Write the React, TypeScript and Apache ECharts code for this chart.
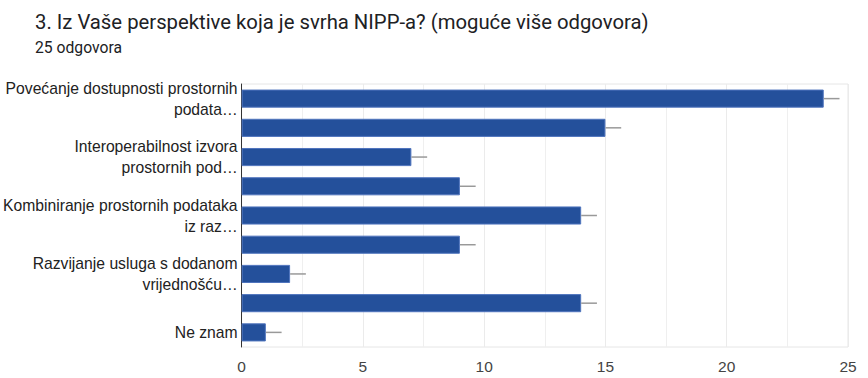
import React, { useEffect, useRef } from "react";
import * as echarts from "echarts";

const titleText = "3. Iz Vaše perspektive koja je svrha NIPP-a? (moguće više odgovora)";
const subtitleText = "25 odgovora";
const categories = [
  "Povećanje dostupnosti prostornih\npodata…",
  "",
  "Interoperabilnost izvora\nprostornih pod…",
  "",
  "Kombiniranje prostornih podataka\niz raz…",
  "",
  "Razvijanje usluga s dodanom\nvrijednošću…",
  "",
  "Ne znam",
];
const values = [24, 15, 7, 9, 14, 9, 2, 14, 1];
const errors = [0.65, 0.65, 0.65, 0.65, 0.65, 0.65, 0.65, 0.65, 0.65];
const xTicks = [0, 5, 10, 15, 20, 25];

export default function App() {
  const ref = useRef<HTMLDivElement>(null);
  useEffect(() => {
    document.body.style.margin = "0";
    if (!ref.current) return;
    const chart = echarts.init(ref.current, null, { renderer: "svg" });
    const errData = values.map((v, i) => [v, v + errors[i], i]);
    chart.setOption({
      animation: false,
      title: {
        text: titleText,
        subtext: subtitleText,
        left: 30,
        top: 7,
        itemGap: 7,
        textStyle: { fontFamily: "Roboto", fontSize: 20.3, fontWeight: "normal", color: "#202124" },
        subtextStyle: { fontFamily: "Roboto", fontSize: 15.7, color: "#202124" },
      },
      grid: {
        left: 236,
        right: 20,
        top: 84,
        bottom: 31,
        show: true,
        borderColor: "#e6e6e6",
        borderWidth: 1,
      },
      xAxis: {
        type: "value",
        min: xTicks[0],
        max: xTicks[xTicks.length - 1],
        interval: 5,
        axisLine: { show: false },
        axisTick: { show: false },
        axisLabel: { color: "#444", fontFamily: "Liberation Sans, Arial", fontSize: 15.5, margin: 11 },
        splitLine: { show: true, lineStyle: { color: "#ebebeb", width: 1 } },
        minorTick: { show: false, splitNumber: 2 },
        minorSplitLine: { show: true, lineStyle: { color: "#efefef", width: 1 } },
      },
      yAxis: {
        type: "category",
        inverse: true,
        data: categories,
        axisLine: { show: true, lineStyle: { color: "#333", width: 1 } },
        axisTick: { show: false },
        axisLabel: {
          interval: 0,
          color: "#222",
          fontFamily: "Liberation Sans, Arial",
          fontSize: 15.7,
          lineHeight: 21,
          margin: 4,
          align: "right",
        },
      },
      series: [
        {
          type: "bar",
          data: values,
          barWidth: "62%",
          itemStyle: { color: "#24509b", borderColor: "#4f74bd", borderWidth: 1 },
          z: 2,
        },
        {
          type: "custom",
          data: errData,
          encode: { x: [0, 1], y: 2 },
          z: 3,
          renderItem: (params: any, api: any) => {
            const a = api.coord([api.value(0), api.value(2)]);
            const b = api.coord([api.value(1), api.value(2)]);
            return {
              type: "line",
              shape: { x1: a[0], y1: a[1], x2: b[0], y2: b[1] },
              style: { stroke: "#999", lineWidth: 1.5 },
            };
          },
        },
      ],
    });
    return () => chart.dispose();
  }, []);
  return <div ref={ref} style={{ width: 868, height: 378 }} />;
}
